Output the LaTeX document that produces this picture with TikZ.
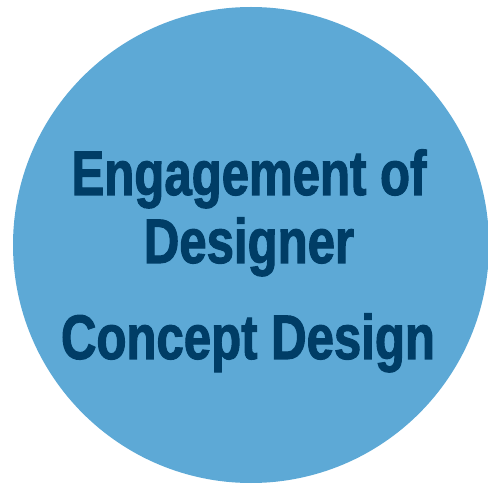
\documentclass[tikz,border=0pt]{standalone}
\usepackage{fontspec}
\newfontfamily\narrowbold[UprightFont={* Bold},FakeStretch=0.78,FakeBold=1.6]{Liberation Sans}
\definecolor{circfill}{HTML}{5DA9D6}
\definecolor{txtnavy}{HTML}{003D66}
\begin{document}
\begin{tikzpicture}[x=1pt,y=1pt,
  lbl/.style={anchor=base,text=txtnavy,font=\narrowbold\fontsize{63}{68}\selectfont,inner sep=0pt}]
\useasboundingbox (0,0) rectangle (488,-484);
\begin{scope}
\clip (0,0) rectangle (488,-484);
\node[circle,fill=circfill,draw=none,minimum size=476pt,inner sep=0pt] (c) at (251,-245) {};
\end{scope}
\node[lbl] (l1) at (249,-195) {Engagement of};
\node[lbl] (l2) at (249,-263) {Designer};
\node[lbl] (l3) at (248,-359) {Concept Design};
\end{tikzpicture}
\end{document}
